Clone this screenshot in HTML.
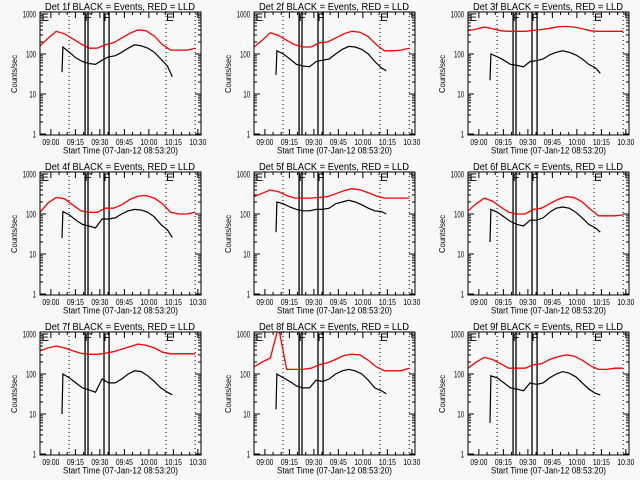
<!DOCTYPE html>
<html><head><meta charset="utf-8"><style>
html,body{margin:0;padding:0;background:#f8f8f8;}
svg{display:block;font-family:"Liberation Sans",sans-serif;}
</style></head><body>
<svg id="chart" width="640" height="480" viewBox="0 0 640 480">
<rect width="640" height="480" fill="#f8f8f8"/>
</svg>
<script>
// minutes since 08:53:20
const blackTimes = [13.5,14,18,22,26,30,34,38,42,46,50,54,58,62,66,70,74,78,81];
const redTimes = [0,5,10,15,20,25,30,35,40,45,50,55,60,65,70,75,80,85,90,95];
const detectors = ["1f","2f","3f","4f","5f","6f","7f","8f","9f"];
const red1 = [160,250,370,320,240,180,140,140,170,190,250,330,400,380,280,170,125,125,125,140];
const black1 = [35,150,110,80,65,58,55,70,85,90,110,140,170,160,140,110,75,50,27];
const red2 = [150,220,340,290,220,170,150,150,190,200,250,320,370,350,270,170,120,120,125,140];
const black2 = [30,120,100,75,55,50,48,65,70,75,100,130,155,150,130,100,65,45,38];
const red3 = [380,420,470,430,380,370,370,370,390,410,440,480,490,470,430,380,370,370,370,370];
const black3 = [22,100,85,70,55,52,48,65,68,75,95,110,120,110,95,75,55,45,33];
const red4 = [110,190,260,240,170,120,110,110,140,140,170,230,280,290,250,180,110,100,100,110];
const black4 = [25,115,95,70,55,50,45,75,75,80,100,120,130,125,110,85,55,40,26];
const red5 = [270,330,400,360,290,250,250,250,260,270,320,380,430,400,340,280,250,250,250,250];
const black5 = [35,200,180,150,130,120,120,130,130,140,180,200,220,200,170,140,120,115,100];
const red6 = [120,180,250,210,150,110,100,100,130,140,180,230,270,260,200,130,90,90,90,95];
const black6 = [20,130,110,85,65,55,50,70,70,80,110,140,150,140,110,80,55,45,35];
const red7 = [380,450,500,450,380,330,310,310,330,360,420,480,560,520,450,350,320,320,320,320];
const black7 = [10,100,80,60,45,40,35,75,60,60,75,100,120,115,90,65,45,35,30];
const red8 = [150,200,250,1500,130,130,130,140,170,190,230,290,310,300,220,150,120,120,120,140];
const black8 = [13,100,80,65,50,45,45,70,65,75,100,120,130,120,100,70,45,38,32];
const red9 = [140,200,260,230,180,140,140,140,170,180,230,270,300,280,220,160,130,130,140,140];
const black9 = [6,90,80,60,45,42,38,60,55,60,80,100,115,105,85,60,42,33,30];
const redSeries = [red1,red2,red3,red4,red5,red6,red7,red8,red9];
const blackSeries = [black1,black2,black3,black4,black5,black6,black7,black8,black9];
const yTicks = [1000,100,10,1];
const yTickLabels = ["1000","100","10","1"];
const xTickTimes = [6.67,21.67,36.67,51.67,66.67,81.67,96.67];
const xTickLabels = ["09:00","09:15","09:30","09:45","10:00","10:15","10:30"];
const dottedTimes = [17.8,77.2,95];
const solidTimes = [27.6,29.4,39.2,42.3];
const markerTimes = [1,27.4,39,77.2];
const markerLabels = ["E","F","F","E"];

const NS="http://www.w3.org/2000/svg";
const svg=document.getElementById('chart');
function mk(tag,attrs,parent){const e=document.createElementNS(NS,tag);for(const k in attrs)e.setAttribute(k,attrs[k]);(parent||svg).appendChild(e);return e;}
const W=161,H=123,PXMIN=1.633;
for(let i=0;i<9;i++){
  const L=40+214*(i%3), T=12+160*Math.floor(i/3);
  const xs=t=>L+t*PXMIN;
  const ys=v=>T+2+(3-Math.log10(v))*40;
  const g=mk('g',{});
  
  
  const cid='clip'+i;
  const cp=mk('clipPath',{id:cid},g);mk('rect',{x:L,y:T,width:W,height:H},cp);
  const title=mk('text',{x:L+5,y:T-2,'font-size':'10',textLength:150,lengthAdjust:'spacingAndGlyphs'},g);
  title.textContent='Det '+detectors[i]+' BLACK = Events, RED = LLD';
  
  
  // y ticks
  for(let d=0;d<3;d++){for(let m=2;m<=9;m++){const y=ys(Math.pow(10,d)*m);
    mk('line',{x1:L,x2:L+3,y1:y,y2:y,stroke:'#000','stroke-width':1},g);
    mk('line',{x1:L+W-3,x2:L+W,y1:y,y2:y,stroke:'#000','stroke-width':1},g);}}
  yTicks.forEach((v,k)=>{const y=ys(v);
    mk('line',{x1:L,x2:L+6,y1:y,y2:y,stroke:'#000'},g);
    mk('line',{x1:L+W-6,x2:L+W,y1:y,y2:y,stroke:'#000'},g);
    const s=yTickLabels[k];
    const tl=mk('text',{x:L-4,y:y+3.5,'text-anchor':'end','font-size':'9',textLength:s.length*3.3,lengthAdjust:'spacingAndGlyphs'},g);
    tl.textContent=s;
    
    });
  const yt=mk('text',{x:0,y:0,'text-anchor':'middle','font-size':'8.5',textLength:38,lengthAdjust:'spacingAndGlyphs',transform:`translate(${L-23},${T+62}) rotate(-90)`},g);
  yt.textContent='Counts/sec';
  
  
  // x ticks
  xTickTimes.forEach((t,k)=>{const x=xs(t);
    mk('line',{x1:x,x2:x,y1:T+H,y2:T+H-6,stroke:'#000'},g);
    mk('line',{x1:x,x2:x,y1:T,y2:T+6,stroke:'#000'},g);
    for(let m=5;m<15;m+=5){const xm=xs(t+m);if(xm<L+W){
      mk('line',{x1:xm,x2:xm,y1:T+H,y2:T+H-3,stroke:'#000'},g);
      mk('line',{x1:xm,x2:xm,y1:T,y2:T+3,stroke:'#000'},g);}}
    const xl=mk('text',{x:x,y:T+H+10,'text-anchor':'middle','font-size':'8.5',textLength:17,lengthAdjust:'spacingAndGlyphs'},g);
    xl.textContent=xTickLabels[k];
    
    });
  const xt=mk('text',{x:L+23,y:T+H+18.5,'font-size':'9',textLength:115,lengthAdjust:'spacingAndGlyphs'},g);
  xt.textContent='Start Time (07-Jan-12 08:53:20)';
  
  
  // vertical markers
  dottedTimes.forEach(t=>{const x=xs(t);mk('line',{x1:x,x2:x,y1:T,y2:T+H,stroke:'#000','stroke-dasharray':'1,3'},g);});
  solidTimes.forEach(t=>{const x=xs(t);mk('line',{x1:x,x2:x,y1:T,y2:T+H,stroke:'#000','stroke-width':1.3},g);});
  markerTimes.forEach((t,k)=>{const m=mk('text',{x:xs(t),y:T+9,'font-size':'11'},g);
    m.textContent=markerLabels[k];
    
    });
  // series
  const rp=mk('polyline',{points:redTimes.map((t,k)=>xs(t).toFixed(1)+','+ys(redSeries[i][k]).toFixed(1)).join(' '),fill:'none',stroke:'#ff0000','stroke-width':1.3,'clip-path':`url(#${cid})`},g);
  
  
  const bp=mk('polyline',{points:blackTimes.map((t,k)=>xs(t).toFixed(1)+','+ys(blackSeries[i][k]).toFixed(1)).join(' '),fill:'none',stroke:'#000','stroke-width':1.2,'clip-path':`url(#${cid})`},g);
  
  
  const box=mk('rect',{x:L,y:T,width:W,height:H,fill:'none',stroke:'#000','stroke-width':1},g);
  
  
}
</script>
</body></html>
